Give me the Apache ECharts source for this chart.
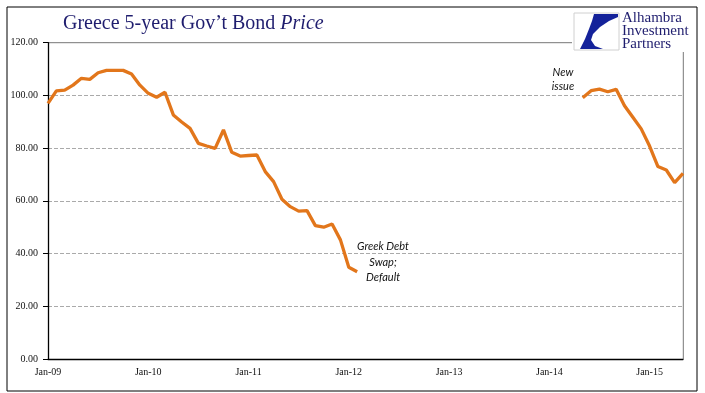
<!DOCTYPE html>
<html>
<head>
<meta charset="utf-8">
<script src="https://cdn.jsdelivr.net/npm/echarts@6/dist/echarts.min.js"></script>
<style>html,body{margin:0;padding:0;background:#fff}#c{width:705px;height:393px}</style>
</head>
<body>
<div id="c"></div>
<script>
// Monthly categories Jan-09 .. May-15
var monthNames = ['Jan','Feb','Mar','Apr','May','Jun','Jul','Aug','Sep','Oct','Nov','Dec'];
var years = ['09','10','11','12','13','14','15'];
var categories = [];
years.forEach(function (y) {
  monthNames.forEach(function (m, i) {
    if (y === '15' && i > 4) return;
    categories.push(m + '-' + y);
  });
});

// Price values by year (null = no bond outstanding)
var price2009 = [97.0, 101.7, 102.0, 103.9, 106.5, 106.1, 108.6, 109.5, 109.5, 109.5, 108.1, 103.9];
var price2010 = [100.8, 99.3, 101.2, 92.6, 89.9, 87.5, 81.8, 80.8, 79.9, 86.9, 78.4, 77.0];
var price2011 = [77.2, 77.4, 71.1, 67.3, 60.6, 57.8, 56.1, 56.3, 50.6, 50.0, 51.2, 45.2];
var price2012 = [34.8, 33.1, null, null, null, null, null, null, null, null, null, null];
var price2013 = [null, null, null, null, null, null, null, null, null, null, null, null];
var price2014 = [null, null, null, null, 99.1, 101.8, 102.4, 101.4, 102.3, 96.1, 91.7, 87.3];
var price2015 = [80.8, 73.0, 71.7, 66.9, 70.4];
var priceValues = [].concat(price2009, price2010, price2011, price2012, price2013, price2014, price2015);

var yTicks = [0, 20, 40, 60, 80, 100, 120];

var chart = echarts.init(document.getElementById('c'), null, {renderer: 'canvas'});
var serif = '"Liberation Serif", "DejaVu Serif", serif';
var navy = '#1f1d6e';

chart.setOption({
  backgroundColor: '#ffffff',
  animation: false,
  grid: {left: 48, right: 22, top: 42.7, bottom: 34},
  xAxis: {
    type: 'category',
    data: categories,
    boundaryGap: false,
    axisLine: {show: true, lineStyle: {color: '#000', width: 1.3}},
    axisTick: {show: false},
    axisLabel: {
      interval: 11,
      margin: 8,
      color: '#111',
      fontFamily: serif,
      fontSize: 10
    },
    splitLine: {show: false}
  },
  yAxis: {
    type: 'value',
    min: yTicks[0],
    max: yTicks[yTicks.length - 1],
    interval: 20,
    axisLine: {show: true, lineStyle: {color: '#000', width: 1.3}},
    axisTick: {show: true, length: 5, lineStyle: {color: '#000'}},
    axisLabel: {
      margin: 10,
      color: '#111',
      fontFamily: serif,
      fontSize: 10,
      formatter: function (v) { return v.toFixed(2); }
    },
    splitLine: {
      show: true,
      lineStyle: {
        color: ['#aaa', '#aaa', '#aaa', '#aaa', '#aaa', '#aaa', 'rgba(0,0,0,0)'],
        type: 'dashed',
        width: 1
      }
    }
  },
  series: [{
    type: 'line',
    data: priceValues,
    showSymbol: false,
    connectNulls: false,
    lineStyle: {color: '#e2761b', width: 3.3},
    itemStyle: {color: '#e2761b'}
  }],
  graphic: [
    {type: 'rect', shape: {x: 7, y: 7, width: 690, height: 384}, style: {fill: 'none', stroke: '#000', lineWidth: 1}, silent: true},
    {type: 'line', shape: {x1: 48, y1: 42.7, x2: 572, y2: 42.7}, style: {stroke: '#777', lineWidth: 1}, silent: true},
    {type: 'line', shape: {x1: 683.3, y1: 52, x2: 683.3, y2: 359}, style: {stroke: '#777', lineWidth: 1}, silent: true},
    {
      type: 'text', left: 63, top: 14,
      style: {
        text: '{n|Greece 5-year Gov\u2019t Bond }{i|Price}',
        rich: {
          n: {fontFamily: serif, fontSize: 20, fill: navy},
          i: {fontFamily: serif, fontSize: 20, fontStyle: 'italic', fill: navy}
        }
      }
    },
    // logo box
    {type: 'rect', shape: {x: 574, y: 13, width: 45, height: 37}, style: {fill: '#fff', stroke: '#d0d0d0', lineWidth: 1}},
    {type: 'polygon', shape: {points: [[594,14],[618,14],[618,17],[609,21],[600,27],[593,34],[591,40],[595,46],[603,49],[580,49],[585,39],[589,29],[592,21]]}, style: {fill: '#14229a'}},
    {
      type: 'text', left: 622, top: 11,
      style: {text: 'Alhambra\nInvestment\nPartners', fontFamily: serif, fontSize: 15, lineHeight: 13, fill: navy}
    },
    {
      type: 'text', x: 383, y: 239,
      style: {text: 'Greek Debt\nSwap;\nDefault', fontFamily: 'Lato, "Liberation Sans", sans-serif', fontStyle: 'italic', fontSize: 11, lineHeight: 15.5, fill: '#111', align: 'center'}
    },
    {
      type: 'text', x: 563, y: 65,
      style: {text: 'New\nissue', fontFamily: 'Lato, "Liberation Sans", sans-serif', fontStyle: 'italic', fontSize: 11, lineHeight: 14.5, fill: '#111', align: 'center'}
    }
  ]
});
</script>
</body>
</html>
